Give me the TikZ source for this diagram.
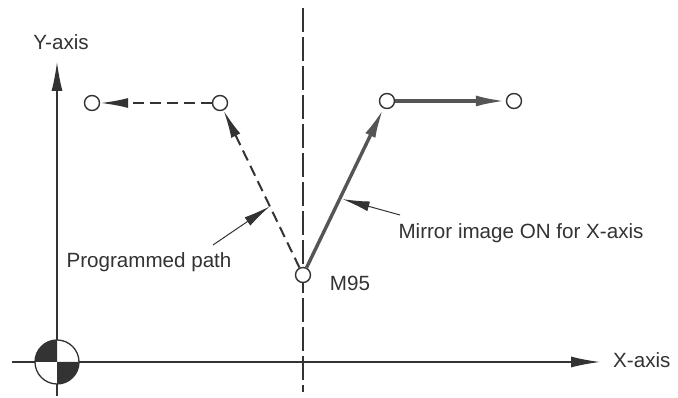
\documentclass[tikz,border=0pt]{standalone}
\usepackage{fontspec}
\setmainfont{Liberation Sans}
\usepackage{tikz}
\usetikzlibrary{arrows.meta,positioning,calc}
\definecolor{ink}{HTML}{333333}
\definecolor{pathgray}{HTML}{555555}
\tikzset{
  spot/.style={circle,draw=ink,fill=white,line width=1.4pt,
               minimum size=15pt,inner sep=0pt},
  lbl/.style={font=\fontsize{20.6}{24}\selectfont,text=ink,inner sep=1pt},
  axisarr/.style={-{Latex[length=29pt,width=11pt]},line width=1.3pt,draw=ink},
  centerline/.style={line width=1.2pt,draw=ink,dash pattern=on 24pt off 5pt},
  progarr/.style={-{Latex[length=28pt,width=10pt]},line width=2pt,
                  draw=ink,dash pattern=on 11pt off 6pt},
  mirrarr/.style={-{Latex[length=30pt,width=11pt]},line width=3.4pt,
                  draw=pathgray},
  notearr/.style={-{Latex[length=27pt,width=10pt]},line width=1pt,draw=ink}
}
\begin{document}
\begin{tikzpicture}[x=1pt,y=1pt]
    \path[use as bounding box,fill=white] (0,0) rectangle (678,398);

    % axes
    \coordinate (ybot) at (57,2);
    \coordinate (ytop) at (57,336);
    \coordinate (xleft) at (12,36);
    \coordinate (xright) at (600,36);
    \coordinate (org) at (57,36);
    \draw[axisarr] (ybot) -- (ytop);
    \draw[axisarr] (xleft) -- (xright);
    \node[lbl] (ylab) at (61,356) {Y-axis};
    \node[lbl,anchor=west] (xlab) at (612,38) {X-axis};

    % mirror axis
    \coordinate (mtop) at (303,390);
    \coordinate (mbot) at (303,6);
    \draw[centerline] (mtop) -- (mbot);

    % origin mark
    \fill[white] (org) circle (22pt);
    \fill[ink] (org) -- ++(180:22pt) arc[start angle=180,end angle=90,radius=22pt] -- cycle;
    \fill[ink] (org) -- ++(0:22pt) arc[start angle=0,end angle=-90,radius=22pt] -- cycle;
    \draw[ink,line width=1.3pt] (org) circle (22pt);

    % points
    \node[spot] (p1) at (92,295) {};
    \node[spot] (p2) at (220,295) {};
    \node[spot] (p3) at (303,123) {};
    \node[spot] (p4) at (387,297) {};
    \node[spot] (p5) at (514,297) {};

    \draw[progarr] (p3) -- (p2);
    \draw[progarr] (p2) -- (p1);
    \draw[mirrarr] (p3) -- (p4);
    \draw[mirrarr] (p4) -- (p5);

    \node[lbl] (m95) at (350,115) {M95};

    % notes
    \node[lbl] (proglab) at (149,136) {Programmed path};
    \path (p3) -- (p2) coordinate[pos=0.39] (progtip);
    \coordinate (progtail) at (213,153);
    \draw[notearr] (progtail) -- (progtip);

    \node[lbl] (mirrlab) at (521,165) {Mirror image ON for X-axis};
    \path (p3) -- (p4) coordinate[pos=0.43] (mirrtip);
    \coordinate (mirrtail) at (400,183);
    \draw[notearr] (mirrtail) -- ($(mirrtip)+(3,0)$);
  \end{tikzpicture}
\end{document}
